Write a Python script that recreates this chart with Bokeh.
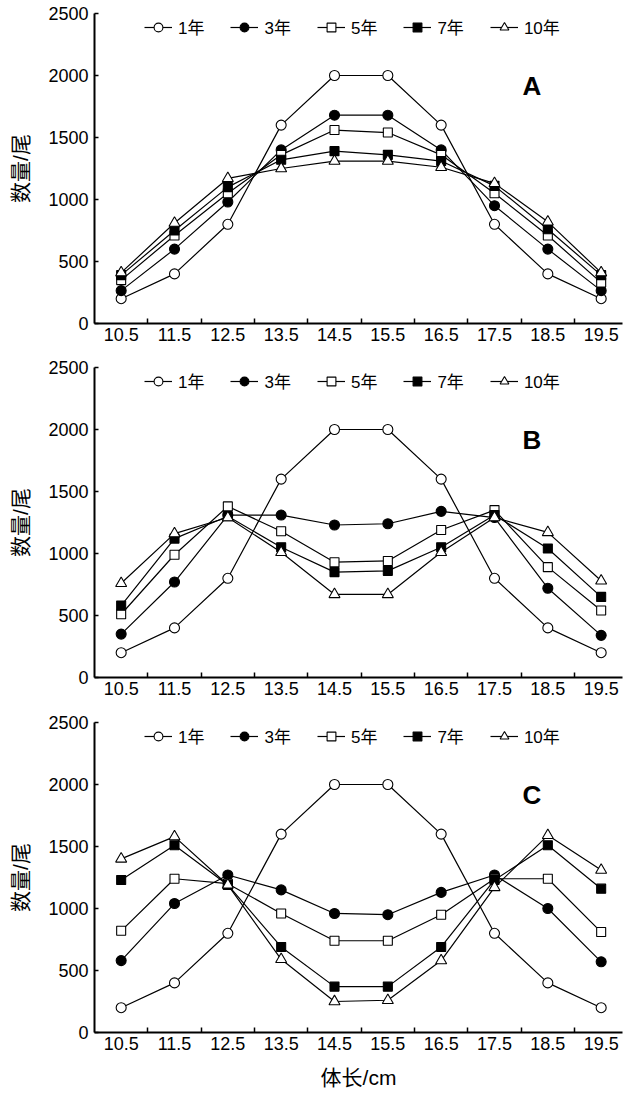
from bokeh.plotting import figure
from bokeh.layouts import column
from bokeh.models import FixedTicker, Legend, LegendItem, Label, Range1d
from bokeh.embed import file_html
from bokeh.resources import INLINE

# ---------------- data ----------------
lengths = [10.5, 11.5, 12.5, 13.5, 14.5, 15.5, 16.5, 17.5, 18.5, 19.5]
tick_labels = ["10.5", "11.5", "12.5", "13.5", "14.5", "15.5", "16.5", "17.5", "18.5", "19.5"]
y_ticks = [0, 500, 1000, 1500, 2000, 2500]
series_names = ["1年", "3年", "5年", "7年", "10年"]

# Panel A
a_1 = [200, 400, 800, 1600, 2000, 2000, 1600, 800, 400, 200]
a_3 = [265, 600, 980, 1400, 1680, 1680, 1400, 950, 600, 265]
a_5 = [350, 710, 1050, 1360, 1560, 1540, 1360, 1050, 710, 330]
a_7 = [390, 750, 1100, 1320, 1390, 1360, 1310, 1110, 760, 390]
a_10 = [410, 810, 1170, 1250, 1310, 1310, 1260, 1130, 820, 410]

# Panel B
b_1 = [200, 400, 800, 1600, 2000, 2000, 1600, 800, 400, 200]
b_3 = [350, 770, 1310, 1310, 1230, 1240, 1340, 1290, 720, 340]
b_5 = [510, 990, 1380, 1180, 930, 940, 1190, 1350, 890, 540]
b_7 = [580, 1120, 1300, 1050, 850, 860, 1050, 1310, 1040, 650]
b_10 = [760, 1160, 1290, 1010, 670, 670, 1010, 1290, 1170, 780]

# Panel C
c_1 = [200, 400, 800, 1600, 2000, 2000, 1600, 800, 400, 200]
c_3 = [580, 1040, 1270, 1150, 960, 950, 1130, 1270, 1000, 570]
c_5 = [820, 1240, 1200, 960, 740, 740, 950, 1240, 1240, 810]
c_7 = [1230, 1510, 1190, 690, 370, 370, 690, 1230, 1510, 1160]
c_10 = [1400, 1580, 1190, 590, 250, 260, 580, 1170, 1590, 1310]

panels = [
    ("A", [a_1, a_3, a_5, a_7, a_10]),
    ("B", [b_1, b_3, b_5, b_7, b_10]),
    ("C", [c_1, c_3, c_5, c_7, c_10]),
]

# ---------------- styles ----------------
FONT = "Liberation Sans, Noto Sans CJK SC"
marker_styles = [
    dict(marker="circle", size=10, fill_color="white"),
    dict(marker="circle", size=10, fill_color="black"),
    dict(marker="square", size=9, fill_color="white"),
    dict(marker="square", size=9, fill_color="black"),
    dict(marker="triangle", size=11, fill_color="white"),
]

# (top border, bottom border) per panel; frame height is 310 for all
borders = [(13, 33), (11, 34), (11, 60)]


def make_panel(letter, series, idx):
    top, bottom = borders[idx]
    last = idx == 2
    height = top + 310 + bottom
    p = figure(width=624, height=height,
               x_range=Range1d(10, 19.9), y_range=Range1d(0, 2500),
               output_backend="svg", toolbar_location=None,
               min_border_left=94, min_border_right=2,
               min_border_top=top, min_border_bottom=bottom)
    p.outline_line_color = None
    p.xgrid.visible = False
    p.ygrid.visible = False
    p.background_fill_color = "white"

    xa = p.xaxis[0]
    xa.ticker = FixedTicker(ticks=lengths, minor_ticks=[11, 12, 13, 14, 15, 16, 17, 18, 19])
    xa.major_label_overrides = {v: s for v, s in zip(lengths, tick_labels)}
    xa.major_tick_in = 0
    xa.major_tick_out = 0
    xa.minor_tick_in = 5
    xa.minor_tick_out = 0
    xa.minor_tick_line_width = 1.5
    xa.minor_tick_line_color = "black"
    xa.axis_line_width = 2
    xa.axis_line_color = "black"
    xa.major_label_text_font = FONT
    xa.major_label_text_font_size = "18px"
    xa.major_label_text_color = "black"
    xa.major_label_standoff = 4
    if last:
        xa.axis_label = "体长/cm"
        xa.axis_label_text_font = FONT
        xa.axis_label_text_font_size = "21px"
        xa.axis_label_text_font_style = "normal"
        xa.axis_label_text_color = "black"
        xa.axis_label_standoff = 13

    ya = p.yaxis[0]
    ya.ticker = FixedTicker(ticks=y_ticks)
    ya.major_tick_in = 4
    ya.major_tick_out = 0
    ya.major_tick_line_width = 1.5
    ya.major_tick_line_color = "black"
    ya.minor_tick_line_color = None
    ya.axis_line_width = 2
    ya.axis_line_color = "black"
    ya.major_label_text_font = FONT
    ya.major_label_text_font_size = "18px"
    ya.major_label_text_color = "black"
    ya.major_label_standoff = 6
    ya.axis_label = "数量/尾"
    ya.axis_label_text_font = FONT
    ya.axis_label_text_font_size = "21px"
    ya.axis_label_text_font_style = "normal"
    ya.axis_label_text_color = "black"
    ya.axis_label_standoff = 13

    items = []
    line_rs = []
    for name, vals, st in zip(series_names, series, marker_styles):
        lr = p.line(lengths, vals, line_color="black", line_width=1.2)
        line_rs.append((name, vals, st, lr))
    for name, vals, st, lr in line_rs:
        sr = p.scatter(lengths, vals, marker=st["marker"], size=st["size"],
                       fill_color=st["fill_color"], line_color="black", line_width=1.1)
        items.append(LegendItem(label=name, renderers=[lr, sr]))

    legend = Legend(items=items, orientation="horizontal", location=(50, 284),
                    padding=0, margin=0, spacing=26, glyph_width=28, glyph_height=22,
                    label_standoff=6, border_line_color=None, background_fill_alpha=0,
                    label_text_font=FONT, label_text_font_size="17px",
                    label_text_color="black")
    p.add_layout(legend)

    p.add_layout(Label(x=18.2, y=1915, text=letter, text_font=FONT,
                       text_font_style="bold", text_font_size="26px",
                       text_color="black",
                       text_align="center", text_baseline="middle"))
    return p


figs = [make_panel(letter, series, i) for i, (letter, series) in enumerate(panels)]
layout = column(*figs)

with open("out.html", "w") as f:
    f.write(file_html(layout, INLINE))
